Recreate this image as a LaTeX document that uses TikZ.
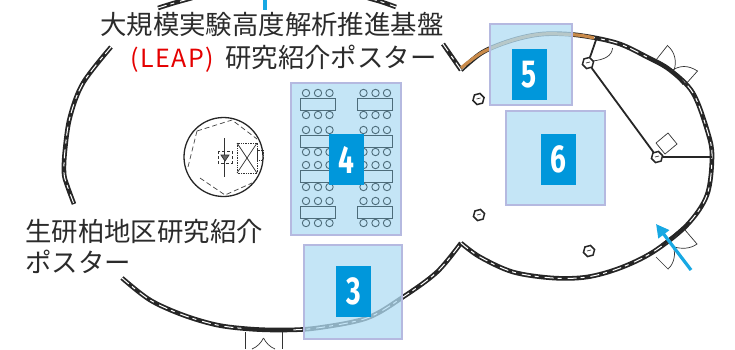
\documentclass[tikz,border=0pt]{standalone}
\usepackage{graphicx}
\usepackage{fontspec}
\newfontfamily\cjk{Noto Sans CJK JP}
\newfontfamily\numfont{Fira Sans}[BoldFont={Fira Sans Bold}]
\usetikzlibrary{arrows.meta,shapes.geometric}
\definecolor{zone}{HTML}{B1DDF4}
\definecolor{zoneedge}{HTML}{B5B9E0}
\definecolor{numblue}{HTML}{0097DB}
\definecolor{arrowblue}{HTML}{17A8E3}
\definecolor{orangewall}{HTML}{C98A4A}
\definecolor{inkgray}{HTML}{4D6C7A}
\definecolor{textgray}{HTML}{2B2B2B}
\tikzset{
  wallbase/.style={draw=black!85,line width=4.6pt,line join=round},
  wallcore/.style={draw=white,line width=1.0pt,dash pattern=on 9pt off 4pt on 4pt off 6pt},
  zonebox/.style={draw=zoneedge,line width=1.1pt,fill=zone,fill opacity=.75,draw opacity=1},
  numbox/.style={fill=numblue,inner sep=0pt,text=white,minimum width=35pt,minimum height=51pt,
    font=\numfont\bfseries\fontsize{39}{39}\selectfont},
  tablebox/.style={draw=inkgray,line width=.9pt},
  chairmark/.style={draw=inkgray,line width=.9pt},
  pillar/.style={draw=black!85,line width=1.5pt,fill=white},
  door/.style={draw=black!80,line width=.7pt},
  partition/.style={draw=black!85,line width=1.8pt},
  roomline/.style={draw=black!85,line width=1.3pt},
  roomdash/.style={draw=black!75,line width=.7pt,dash pattern=on 5pt off 3pt},
  jptext/.style={inner sep=0pt,anchor=base west,text=textgray,font=\cjk\fontsize{26.4}{30}\selectfont},
  redtext/.style={inner sep=0pt,anchor=base west,text=red!90!black,font=\cjk\fontsize{25}{30}\selectfont\addfontfeature{LetterSpace=6}}
}
\newcommand{\wallseg}[1]{%
  \path[wallbase] plot[smooth,tension=.55] coordinates {#1};
  \path[wallcore] plot[smooth,tension=.55] coordinates {#1};
}
\newcommand{\hexpillar}[3]{%
  \node[pillar,regular polygon,regular polygon sides=6,rotate=15,minimum size=11.5pt,inner sep=0pt] (#1) at (#2,#3) {};
  \draw[black!80,line width=.7pt] (#2-2,#3) -- (#2+2,#3-1);
}
\newcommand{\tablegroup}[2]{%
  \draw[tablebox] (#1,#2) rectangle (#1+35,#2+12);
  \foreach \dx in {6,18,29.5}{
    \draw[chairmark] (#1+\dx,#2-5) circle (3.7);
    \draw[chairmark] (#1+\dx,#2+17) circle (3.7);
  }
}
\newcommand{\digit}[1]{\scalebox{.72}[1]{#1}}
\begin{document}
\begin{tikzpicture}[x=1pt,y=-1pt]
\useasboundingbox (0,0) rectangle (735,349);
\fill[white] (0,0) rectangle (735,349);

% walls
\wallseg{(111,47) (83,83) (70,117) (65,150) (64,173) (67,185) (74,204)}
\wallseg{(122,278) (150,300) (183,315) (217,325) (250,329) (283,330) (317,328) (367,318) (403,297) (437,272) (461,243)}
\wallseg{(461,243) (480,257) (513,272) (553,278) (587,277) (620,268) (653,252) (687,225) (707,195) (712,157) (708,133) (693,93) (670,70) (647,57) (617,43) (577,35) (543,34) (513,40) (483,52) (461,70)}
\wallseg{(461,70) (452,57) (443,44)}
\wallseg{(158,8) (174,3) (192,-2)}
\wallseg{(368,-2) (382,2) (396,7)}
\draw[orangewall,line width=3.2pt] plot[smooth,tension=.55] coordinates {(461,68) (483,52) (513,40) (543,34) (577,35) (594,38)};

% heavier wall parts
\draw[black!85,line width=3pt] plot[smooth] coordinates {(647,57) (670,70) (684,84)};
\draw[black!85,line width=3pt] plot[smooth] coordinates {(662,245) (675,235) (687,225)};
\draw[black!85,line width=3pt] plot[smooth] coordinates {(245,329) (265,330) (290,330)};

% interior lines
\hexpillar{pa}{478.5}{99}
\hexpillar{pb}{479}{215}
\hexpillar{pc}{589}{251}
\hexpillar{pd}{588}{63}
\hexpillar{pe}{657}{157}
\coordinate (wtop) at (597,37);
\coordinate (wright) at (712,157);
\draw[partition] (pd) -- (wtop);
\draw[partition] (pd) -- (pe);
\draw[partition] (pe) -- (wright);
\draw[door] (592,61) .. controls (604,60) and (612,56) .. (612.5,48);
\draw[door] (656,143) -- (668,133) -- (677,144) -- (665,154) -- cycle;

% doors
\draw[door] (656,60) -- (667.5,45.5) .. controls (675,52) and (677,62) .. (674,70);
\draw[door] (685,85) -- (697.5,71) .. controls (688,65) and (680,65) .. (671,71);
\draw[door] (656,257) -- (668,269) .. controls (675,263) and (675,253) .. (674,249);
\draw[door] (685,230) -- (697,244) .. controls (690,249) and (682,249) .. (674,247);
\draw[door] (245,332) -- (245,349);
\draw[door] (282,332) -- (282,349);
\draw[door] (263.5,338) .. controls (261,343) and (257,347) .. (252,349);
\draw[door] (263.5,338) .. controls (266,343) and (270,347) .. (275,349);

% zones
\draw[zonebox] (291,83) rectangle (401,235);
\draw[zonebox] (304,245) rectangle (402,339);
\draw[zonebox] (490,24) rectangle (572,105);
\draw[zonebox] (506,111) rectangle (605,205);

% tables
\foreach \ty in {98,135,170,206}{
  \tablegroup{300}{\ty}
  \tablegroup{357.5}{\ty}
}

% round room
\node[circle,draw=black!85,line width=1.3pt,minimum size=79pt,inner sep=0pt] (room) at (223.5,157) {};
\draw[roomdash] (197,131) -- (232,120) -- (257,139);
\draw[roomdash] (197,131) -- (188,167);
\draw[roomdash] (200,178) -- (225,195) -- (252,183);
\draw[door] (224.5,138) -- (224.5,177);
\draw[door,densely dashed] (218,151) rectangle (232,163);
\draw[door,fill=black!60] (221,155) -- (229,155) -- (225,161) -- cycle;
\draw[door,densely dotted,line width=.9pt] (237,143) rectangle (257,173);
\draw[door] (237,143) -- (257,173);
\draw[door] (257,143) -- (237,173);
\draw[door,densely dotted] (257,150) rectangle (263,160);

% number boxes
\node[numbox] (n4) at (346.5,159.5) {\digit{4}};
\node[numbox] (n3) at (353.5,291.5) {\digit{3}};
\node[numbox] (n5) at (529.5,74.5) {\digit{5}};
\node[numbox] (n6) at (558.5,159.5) {\digit{6}};

% blue marks
\coordinate (atail) at (691,270);
\coordinate (ahead) at (656,224);
\draw[arrowblue,line width=3.2pt,-{Triangle[length=13pt,width=13pt]}] (atail) -- (ahead);
\coordinate (ticka) at (265,-1);
\coordinate (tickb) at (265,10);
\draw[arrowblue,line width=3.4pt] (ticka) -- (tickb);

% labels
\node[jptext] (t1) at (100,34) {大規模実験高度解析推進基盤};
\node[redtext] (t2a) at (130,67) {(LEAP)};
\node[jptext] (t2b) at (225,67) {研究紹介ポスター};
\node[jptext] (t3) at (25,241) {生研柏地区研究紹介};
\node[jptext] (t4) at (25,272) {ポスター};
\end{tikzpicture}
\end{document}
